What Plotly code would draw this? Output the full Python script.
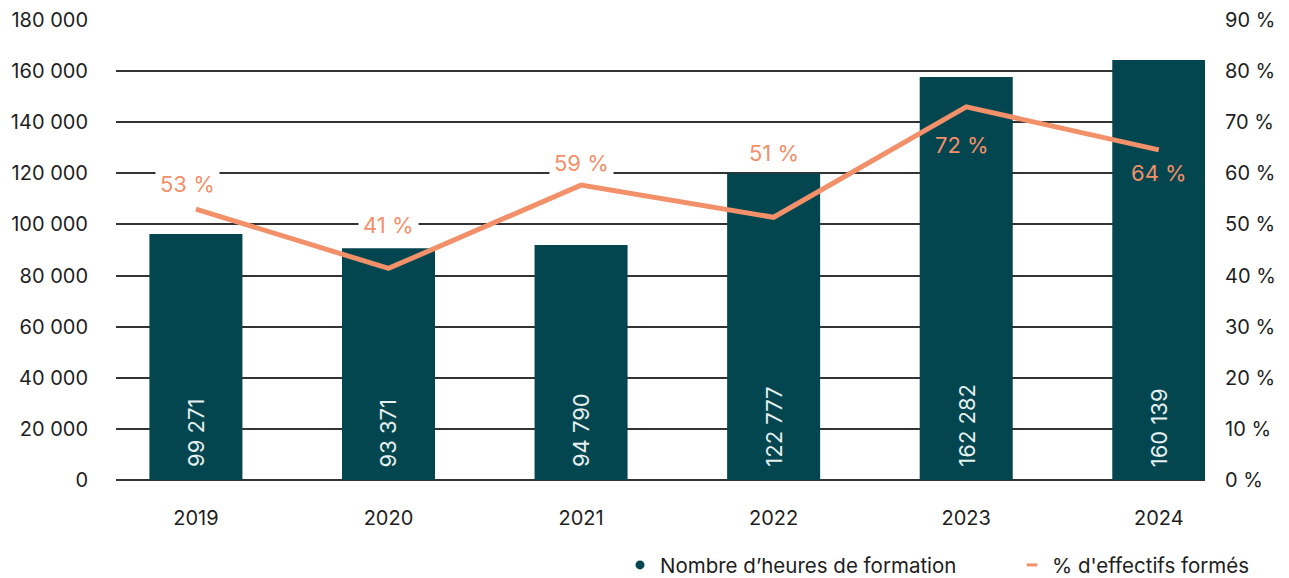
import plotly.graph_objects as go

years = ['2019', '2020', '2021', '2022', '2023', '2024']
# bar heights as drawn in the picture, and the labels printed on them
heures = [96300, 90700, 92000, 120000, 157700, 164300]
heures_labels = ['99 271', '93 371', '94 790', '122 777', '162 282', '160 139']
# line values as drawn, and the labels printed
pct = [53.0, 41.4, 57.7, 51.4, 73.0, 64.6]
pct_labels = ['53 %', '41 %', '59 %', '51 %', '72 %', '64 %']

teal = '#04464F'
salmon = '#F2906A'
font = 'Inter, Roboto, sans-serif'

fig = go.Figure()

fig.add_trace(go.Bar(x=years, y=heures, marker=dict(color=teal, line=dict(width=0)),
                     width=0.483, showlegend=False, hoverinfo='skip'))

fig.add_trace(go.Scatter(x=years, y=pct, yaxis='y2', mode='lines',
                         line=dict(color=salmon, width=5), showlegend=False))

# legend-only entries (dot and short dash like the original)
fig.add_trace(go.Scatter(x=[None], y=[None], mode='markers',
                         marker=dict(symbol='circle', size=9, color=teal),
                         name='Nombre d’heures de formation'))
fig.add_trace(go.Scatter(x=[None], y=[None], mode='markers',
                         marker=dict(symbol='line-ew', size=7.5, line=dict(width=3, color=salmon)),
                         name="% d'effectifs formés"))

# vertical labels inside the bars (category index used as x)
for i, lab in enumerate(heures_labels):
    fig.add_annotation(x=i, y=0, text=lab, textangle=-90, showarrow=False,
                       yanchor='bottom', yshift=11,
                       font=dict(family=font, size=22, color='#E6F0F0'))

# percentage labels
shifts = [25, 43, 22, 64, -38, -23]
for i, (v, lab, s) in enumerate(zip(pct, pct_labels, shifts)):
    on_bar = s < 0
    fig.add_annotation(x=i, y=v, yref='y2', text=lab, showarrow=False,
                       xshift=-8 if i == 0 else (-4 if i == 4 else 0),
                       yshift=s, bgcolor='rgba(0,0,0,0)' if on_bar else 'white',
                       borderpad=4,
                       font=dict(family=font, size=22, color=salmon))

# the page has an 8px body margin, so margins are set 8px smaller on top/left
fig.update_layout(
    width=1289, height=578,
    margin=dict(l=108, r=92, t=12, b=106, autoexpand=False),
    plot_bgcolor='white', paper_bgcolor='white',
    separators=', ',
    font=dict(family=font, size=20, color='#1E1E1E'),
    xaxis=dict(type='category', range=[-0.415, 5.24], showgrid=False,
               showline=False, zeroline=False, ticks='', ticklabelstandoff=24),
    yaxis=dict(range=[0, 180000], dtick=20000, tickformat=',d', showgrid=True,
               gridcolor='#333333', gridwidth=1.5, zeroline=True, zerolinecolor='#333333',
               zerolinewidth=1.5, ticks='', ticklabelstandoff=27),
    yaxis2=dict(range=[0, 90], dtick=10, ticksuffix=' %', overlaying='y', side='right',
                showgrid=False, zeroline=False, ticks='', ticklabelstandoff=19),
    legend=dict(orientation='h', x=0.4628, xanchor='left', y=-0.185, yanchor='middle',
                font=dict(family=font, size=20.5, color='#1E1E1E'), itemwidth=30,
                entrywidth=347, entrywidthmode='pixels',
                bgcolor='rgba(0,0,0,0)'),
)

fig.write_html('out.html')
